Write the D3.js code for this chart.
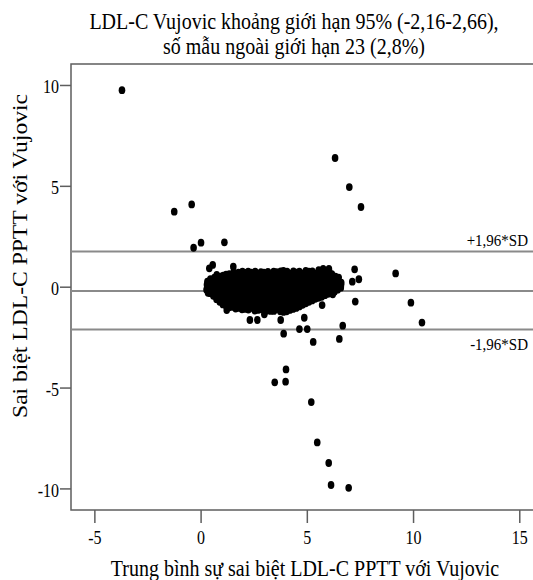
<!DOCTYPE html>
<html>
<head>
<meta charset="utf-8">
<script src="https://cdn.jsdelivr.net/npm/d3@7"></script>
<style>
body { margin: 0; background: #fff; }
text { font-family: "Liberation Serif", "Times New Roman", serif; fill: #000; }
</style>
</head>
<body>
<script>
var titleLines = ["LDL-C Vujovic khoảng giới hạn 95% (-2,16-2,66),", "số mẫu ngoài giới hạn 23 (2,8%)"]
var xLabel = "Trung bình sự sai biệt LDL-C PPTT với Vujovic"
var yLabel = "Sai biệt LDL-C PPTT với Vujovic"
var xTicks = [-5, 0, 5, 10, 15]
var yTicks = [-10, -5, 0, 5, 10]

// mean, +1.96 SD, -1.96 SD
var refLines = [
    {value: 1.74, label: "+1,96*SD"},
    {value: -0.21, label: ""},
    {value: -2.12, label: "-1,96*SD"}
]

// dense cluster [mean, difference]
var cluster = [
    [0.28,-0.15],[0.3,0.1],[0.35,-0.3],[0.32,0.25],
    [0.6,-0.45],[0.58,-0.2],[0.62,0.05],[0.6,0.3],[0.65,0.45],
    [0.9,-0.75],[0.88,-0.5],[0.92,-0.25],[0.9,0.0],[0.87,0.25],[0.93,0.5],
    [1.2,-0.95],[1.18,-0.7],[1.22,-0.45],[1.2,-0.2],[1.17,0.05],[1.23,0.3],[1.2,0.6],
    [1.5,-1.0],[1.48,-0.75],[1.52,-0.5],[1.5,-0.25],[1.47,0.0],[1.53,0.25],[1.5,0.5],[1.55,0.7],
    [1.8,-1.05],[1.78,-0.8],[1.82,-0.55],[1.8,-0.3],[1.77,-0.05],[1.83,0.2],[1.8,0.45],[1.78,0.7],
    [2.1,-1.1],[2.08,-0.85],[2.12,-0.6],[2.1,-0.35],[2.07,-0.1],[2.13,0.15],[2.1,0.4],[2.12,0.68],
    [2.4,-1.05],[2.38,-0.8],[2.42,-0.55],[2.4,-0.3],[2.37,-0.05],[2.43,0.2],[2.4,0.45],[2.38,0.7],
    [2.7,-1.15],[2.68,-0.9],[2.72,-0.65],[2.7,-0.4],[2.67,-0.15],[2.73,0.1],[2.7,0.35],[2.72,0.62],
    [3.0,-1.1],[2.98,-0.85],[3.02,-0.6],[3.0,-0.35],[2.97,-0.1],[3.03,0.15],[3.0,0.4],[2.98,0.7],
    [3.3,-1.2],[3.28,-0.95],[3.32,-0.7],[3.3,-0.45],[3.27,-0.2],[3.33,0.05],[3.3,0.3],[3.32,0.6],
    [3.6,-1.1],[3.58,-0.85],[3.62,-0.6],[3.6,-0.35],[3.57,-0.1],[3.63,0.15],[3.6,0.4],[3.58,0.72],
    [3.9,-1.25],[3.88,-1.0],[3.92,-0.75],[3.9,-0.5],[3.87,-0.25],[3.93,0.0],[3.9,0.25],[3.92,0.5],[3.9,0.78],
    [4.2,-1.15],[4.18,-0.9],[4.22,-0.65],[4.2,-0.4],[4.17,-0.15],[4.23,0.1],[4.2,0.35],[4.18,0.65],
    [4.5,-1.05],[4.48,-0.8],[4.52,-0.55],[4.5,-0.3],[4.47,-0.05],[4.53,0.2],[4.5,0.45],[4.52,0.7],
    [4.8,-0.9],[4.78,-0.65],[4.82,-0.4],[4.8,-0.15],[4.77,0.1],[4.83,0.35],[4.8,0.65],
    [5.1,-0.75],[5.08,-0.5],[5.12,-0.25],[5.1,0.0],[5.07,0.25],[5.13,0.5],[5.1,0.75],
    [5.4,-0.6],[5.38,-0.35],[5.42,-0.1],[5.4,0.15],[5.37,0.4],[5.43,0.65],
    [5.7,-0.5],[5.68,-0.25],[5.72,0.0],[5.7,0.25],[5.67,0.5],[5.73,0.8],
    [6.0,-0.35],[5.98,-0.1],[6.02,0.15],[6.0,0.4],[6.05,0.75],
    [6.3,-0.25],[6.28,0.0],[6.32,0.25],[6.35,0.5],
    [6.6,-0.05],[6.62,0.2]
]

// second layer of the cluster, between the columns above
var clusterFill = [
    [0.45,-0.32],[0.47,-0.08],[0.44,0.18],[0.46,0.38],
    [0.75,-0.62],[0.77,-0.37],[0.74,-0.12],[0.76,0.13],[0.75,0.38],
    [1.05,-0.88],[1.07,-0.62],[1.04,-0.37],[1.06,-0.12],[1.05,0.13],[1.03,0.38],[1.06,0.55],
    [1.35,-1.02],[1.37,-0.87],[1.34,-0.62],[1.36,-0.37],[1.35,-0.12],[1.33,0.13],[1.36,0.38],[1.35,0.62],
    [1.65,-1.08],[1.67,-0.88],[1.64,-0.62],[1.66,-0.37],[1.65,-0.12],[1.63,0.13],[1.66,0.38],[1.65,0.62],
    [1.95,-1.12],[1.97,-0.97],[1.94,-0.72],[1.96,-0.47],[1.95,-0.22],[1.93,0.03],[1.96,0.28],[1.95,0.55],[1.97,0.75],
    [2.25,-1.13],[2.27,-0.97],[2.24,-0.72],[2.26,-0.47],[2.25,-0.22],[2.23,0.03],[2.26,0.28],[2.25,0.55],[2.24,0.75],
    [2.55,-1.18],[2.57,-1.02],[2.54,-0.77],[2.56,-0.52],[2.55,-0.27],[2.53,-0.02],[2.56,0.23],[2.55,0.5],[2.57,0.74],
    [2.85,-1.12],[2.87,-1.0],[2.84,-0.77],[2.86,-0.52],[2.85,-0.27],[2.83,-0.02],[2.86,0.23],[2.85,0.5],[2.84,0.72],
    [3.15,-1.18],[3.17,-0.97],[3.14,-0.72],[3.16,-0.47],[3.15,-0.22],[3.13,0.03],[3.16,0.28],[3.15,0.52],[3.17,0.73],
    [3.45,-1.2],[3.47,-0.97],[3.44,-0.72],[3.46,-0.47],[3.45,-0.22],[3.43,0.03],[3.46,0.28],[3.45,0.52],[3.44,0.74],
    [3.75,-1.22],[3.77,-0.97],[3.74,-0.72],[3.76,-0.47],[3.75,-0.22],[3.73,0.03],[3.76,0.28],[3.75,0.55],[3.77,0.76],
    [4.05,-1.22],[4.07,-1.02],[4.04,-0.77],[4.06,-0.52],[4.05,-0.27],[4.03,-0.02],[4.06,0.23],[4.05,0.48],[4.07,0.74],
    [4.35,-1.1],[4.37,-0.92],[4.34,-0.67],[4.36,-0.42],[4.35,-0.17],[4.33,0.08],[4.36,0.33],[4.35,0.58],[4.37,0.76],
    [4.65,-0.98],[4.67,-0.77],[4.64,-0.52],[4.66,-0.27],[4.65,-0.02],[4.63,0.23],[4.66,0.48],[4.65,0.74],
    [4.95,-0.82],[4.97,-0.62],[4.94,-0.37],[4.96,-0.12],[4.95,0.13],[4.93,0.38],[4.96,0.63],[4.95,0.78],
    [5.25,-0.68],[5.27,-0.47],[5.24,-0.22],[5.26,0.03],[5.25,0.28],[5.23,0.53],[5.26,0.76],
    [5.55,-0.55],[5.57,-0.37],[5.54,-0.12],[5.56,0.13],[5.55,0.38],[5.53,0.63],[5.56,0.82],
    [5.85,-0.42],[5.87,-0.22],[5.84,0.03],[5.86,0.28],[5.85,0.53],[5.87,0.78],
    [6.15,-0.3],[6.17,-0.07],[6.14,0.18],[6.16,0.43],[6.18,0.62],
    [6.45,-0.15],[6.47,0.08],[6.44,0.3],[6.5,0.45]
]

// loose points around the cluster
var scattered = [
    [0.41,0.91],[0.57,1.08],[0.76,0.58],[1.54,0.99],[5.77,0.88],[6.04,0.88],
    [1.23,-1.16],[2.32,-1.65],[2.67,-1.65],[3.0,-1.37],[3.77,-1.65],[4.88,-1.54],
    [5.72,-0.91],[6.22,-0.38],[6.61,0.08],[7.25,0.86],[7.14,0.25],[7.45,0.37],
    [7.28,-0.74],[9.18,0.66],[9.9,-0.79],[10.42,-1.78],[6.69,-1.93]
]

// points outside the limits
var outliers = [
    [-3.70,9.74],[-1.24,3.72],[-0.42,4.08],[-0.33,1.93],[0.02,2.18],[1.12,2.2],
    [6.33,6.38],[7.0,4.94],[7.55,3.95],
    [6.53,-2.59],[5.30,-2.74],[5.02,-2.10],[4.65,-2.10],[3.91,-2.33],
    [4.02,-4.10],[3.49,-4.74],[4.0,-4.71],[5.21,-5.72],[5.49,-7.72],
    [6.03,-8.74],[6.14,-9.83],[6.97,-9.97]
]

var points = cluster.concat(clusterFill).concat(scattered).concat(outliers)

var W = 533, H = 580
var stretch = "scale(1,1.18)"
var margin = {top: 64, right: -2, bottom: 70, left: 71}
var width = W - margin.left - margin.right, height = H - margin.top - margin.bottom

var svg = d3.select("body")
    .append("svg")
    .attr("width", W)
    .attr("height", H)

var g = svg.append("g")
    .attr("transform", "translate(" + margin.left + "," + margin.top + ")")

var x = d3.scaleLinear().domain([-6.1, 15.74]).range([0, width])
var y = d3.scaleLinear().domain([-11.07, 11.04]).range([height, 0])

g.append("rect")
    .attr("x", 0)
    .attr("y", 0)
    .attr("width", width)
    .attr("height", height)
    .attr("fill", "none")
    .attr("stroke", "#5e5e5e")
    .attr("stroke-width", 1.5)

var xAxis = g.append("g")
    .attr("transform", "translate(0," + height + ")")
    .call(d3.axisBottom(x).tickValues(xTicks).tickSize(13).tickFormat(function(d) { return String(d); }))
xAxis.select(".domain").remove()
xAxis.selectAll("line").attr("stroke", "#5e5e5e").attr("stroke-width", 1.5)
xAxis.selectAll("text")
    .attr("y", 0)
    .attr("dy", 0)
    .attr("transform", "translate(0,34)" + stretch)
    .style("font-size", "16px")
    .style("font-family", "Liberation Serif")

var yAxis = g.append("g")
    .call(d3.axisLeft(y).tickValues(yTicks).tickSize(11).tickPadding(1).tickFormat(function(d) { return String(d); }))
yAxis.select(".domain").remove()
yAxis.selectAll("line").attr("stroke", "#5e5e5e").attr("stroke-width", 1.5)
yAxis.selectAll("text")
    .attr("y", 0)
    .attr("dy", 0)
    .attr("transform", "translate(0,8)" + stretch)
    .style("font-size", "16px")
    .style("font-family", "Liberation Serif")

g.selectAll(".ref")
    .data(refLines)
    .enter()
    .append("line")
    .attr("class", "ref")
    .attr("x1", 0)
    .attr("x2", width)
    .attr("y1", function(d) { return y(d.value); })
    .attr("y2", function(d) { return y(d.value); })
    .attr("stroke", "#8a8a8a")
    .attr("stroke-width", 2)

g.selectAll(".reflabel")
    .data(refLines.filter(function(d) { return d.label; }))
    .enter()
    .append("text")
    .attr("class", "reflabel")
    .attr("transform", function(d) {
        var by = d.value > 0 ? y(d.value) - 6 : y(d.value) + 21
        return "translate(457," + by + ")" + stretch
    })
    .attr("text-anchor", "end")
    .style("font-size", "15px")
    .text(function(d) { return d.label; })

g.selectAll(".dot")
    .data(points)
    .enter()
    .append("ellipse")
    .attr("class", "dot")
    .attr("cx", function(d) { return x(d[0]); })
    .attr("cy", function(d) { return y(d[1]); })
    .attr("rx", 3.3)
    .attr("ry", 3.9)
    .attr("fill", "#000")

svg.selectAll(".title")
    .data(titleLines)
    .enter()
    .append("text")
    .attr("class", "title")
    .attr("transform", function(d, i) { return "translate(294," + (29 + i * 25) + ")" + stretch; })
    .attr("text-anchor", "middle")
    .style("font-size", "20px")
    .text(function(d) { return d; })

svg.append("text")
    .attr("transform", "translate(305,576)" + stretch)
    .attr("text-anchor", "middle")
    .style("font-size", "20px")
    .text(xLabel)

svg.append("text")
    .attr("transform", "translate(27,256)" + stretch + "rotate(-90)")
    .attr("text-anchor", "middle")
    .style("font-size", "20px")
    .text(yLabel)
</script>
</body>
</html>
